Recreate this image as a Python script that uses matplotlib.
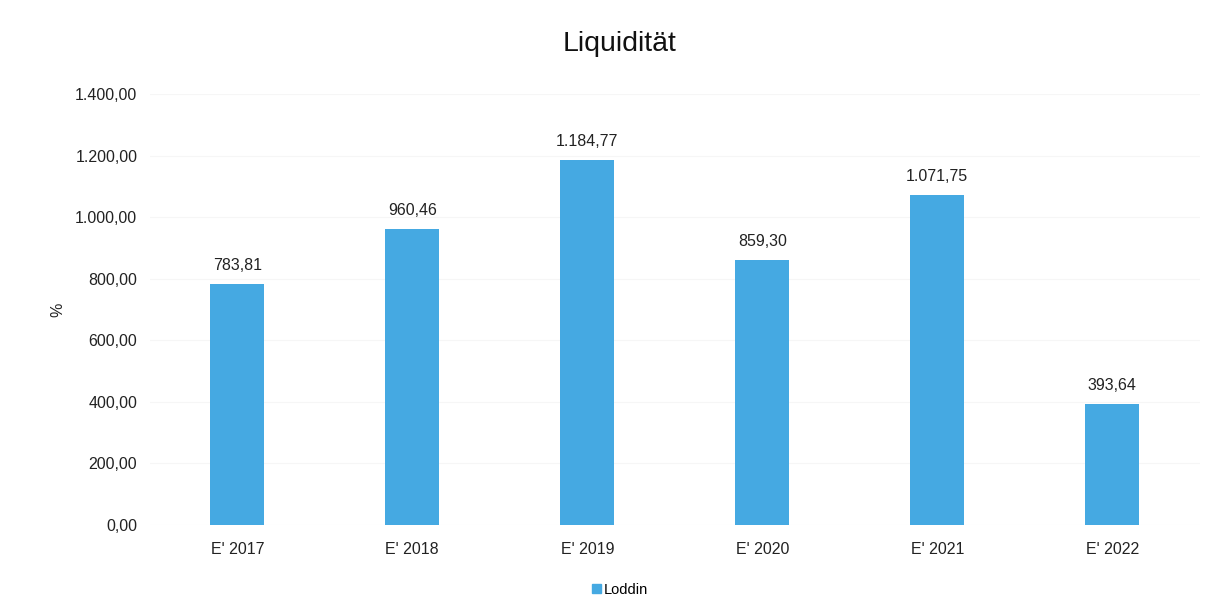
import matplotlib
matplotlib.use("Agg")
import matplotlib.pyplot as plt
from matplotlib.ticker import FuncFormatter
from matplotlib.patches import Patch

categories = ["E' 2017", "E' 2018", "E' 2019", "E' 2020", "E' 2021", "E' 2022"]
values = [783.81, 960.46, 1184.77, 859.30, 1071.75, 393.64]
series_name = "Loddin"
title = "Liquidität"

plt.rcParams['font.family'] = ['Liberation Sans', 'DejaVu Sans']

def de(v, pos=None):
    s = f"{v:,.2f}"
    return s.replace(",", "X").replace(".", ",").replace("X", ".")

fig = plt.figure(figsize=(12.18, 6.11), dpi=100)
ax = fig.add_axes([0.123, 0.141, 0.862, 0.705])
color = "#45a9e2"
x = list(range(len(categories)))
bars = ax.bar(x, values, width=0.31, color=color, zorder=2)
for xi, v in zip(x, values):
    ax.annotate(de(v), (xi, v), xytext=(0, 8), textcoords="offset points",
                ha="center", va="bottom", fontsize=11.5, color="#222222")
ax.set_xlim(-0.5, 5.5)
ax.set_ylim(0, 1400)
ax.set_yticks(range(0, 1401, 200))
ax.yaxis.set_major_formatter(FuncFormatter(de))
ax.set_xticks(x)
ax.set_xticklabels(categories)
ax.tick_params(axis='both', length=0, labelsize=11.5, colors="#222222")
ax.tick_params(axis='y', pad=9)
ax.tick_params(axis='x', pad=12)
for s in ax.spines.values():
    s.set_visible(False)
ax.grid(axis='y', color="#f6f6f6", linewidth=0.8, zorder=0)
ax.set_ylabel("%", fontsize=11.5, color="#222222")
ax.yaxis.set_label_coords(-0.08, 0.5)
fig.suptitle(title, x=0.509, y=0.95, fontsize=20.5, color="#111111")
fig.legend(handles=[Patch(color=color, label=series_name)], loc="center",
           bbox_to_anchor=(0.509, 0.035), frameon=False, fontsize=10.5,
           handlelength=0.6, handleheight=0.6, handletextpad=0.2)
fig.savefig("out.png", dpi=100)
